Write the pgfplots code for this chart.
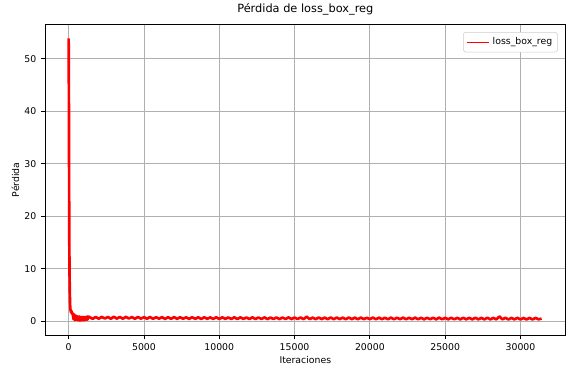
\documentclass[border=0pt]{standalone}
\usepackage{pgfplots}
\pgfplotsset{compat=1.18}
\usepackage{pgfplotstable}
\usepackage{fontspec}
\setmainfont{DejaVu Sans}
\definecolor{gridgray}{HTML}{B0B0B0}
\definecolor{legedge}{HTML}{CCCCCC}
\pgfplotstableread{
it loss
0 53.9
20 40
40 16.4
60 9
80 5
100 3
120 2.2
140 1.9
160 1.7
180 2.0
200 1.5
240 1.6
280 1.2
320 0.4
360 1.3
400 0.2
440 1.1
480 0.3
520 1.0
560 0.2
600 0.9
650 0.2
700 0.9
750 0.1
800 0.8
850 0.2
900 0.8
950 0.15
1000 0.8
1050 0.2
1100 0.8
1150 0.25
1200 0.85
1250 0.3
1300 0.9
1400 0.75
1600 0.45
1800 0.80
2000 0.47
2200 0.82
2400 0.50
2600 0.81
2800 0.46
3000 0.84
3200 0.49
3400 0.80
3600 0.47
3800 0.82
4000 0.50
4200 0.79
4400 0.45
4600 0.80
4800 0.48
5000 0.77
5200 0.46
5400 0.79
5600 0.45
5800 0.75
6000 0.47
6200 0.77
6400 0.43
6600 0.75
6800 0.45
7000 0.78
7200 0.44
7400 0.75
7600 0.46
7800 0.73
8000 0.43
8200 0.76
8400 0.45
8600 0.74
8800 0.42
9000 0.75
9200 0.44
9400 0.72
9600 0.43
9800 0.75
10000 0.41
10200 0.73
10400 0.44
10600 0.71
10800 0.42
11000 0.74
11200 0.41
11400 0.72
11600 0.43
11800 0.70
12000 0.41
12200 0.73
12400 0.40
12600 0.71
12800 0.42
13000 0.72
13200 0.40
13400 0.69
13600 0.42
13800 0.71
14000 0.39
14200 0.70
14400 0.41
14600 0.72
14800 0.40
15000 0.69
15200 0.41
15400 0.70
15600 0.39
15800 0.85
16000 0.40
16200 0.69
16400 0.38
16600 0.70
16800 0.40
17000 0.68
17200 0.39
17400 0.71
17600 0.38
17800 0.69
18000 0.40
18200 0.67
18400 0.38
18600 0.70
18800 0.39
19000 0.67
19200 0.37
19400 0.69
19600 0.39
19800 0.66
20000 0.38
20200 0.68
20400 0.37
20600 0.67
20800 0.39
21000 0.65
21200 0.37
21400 0.68
21600 0.36
21800 0.66
22000 0.38
22200 0.67
22400 0.36
22600 0.65
22800 0.37
23000 0.68
23200 0.36
23400 0.66
23600 0.35
23800 0.66
24000 0.37
24200 0.65
24400 0.35
24600 0.67
24800 0.36
25000 0.64
25200 0.35
25400 0.66
25600 0.36
25800 0.65
26000 0.34
26200 0.65
26400 0.35
26600 0.64
26800 0.34
27000 0.66
27200 0.35
27400 0.63
27600 0.34
27800 0.65
28000 0.35
28200 0.64
28400 0.34
28600 0.90
28800 0.35
29000 0.65
29200 0.33
29400 0.63
29600 0.34
29800 0.64
30000 0.33
30200 0.62
30400 0.34
30600 0.63
30800 0.33
31000 0.62
31200 0.35
31400 0.50
}\losstable
\begin{document}
\begin{tikzpicture}
\path[use as bounding box] (-33.75pt,-25.3pt) rectangle (393.75pt,251.5pt);
\begin{axis}[
  at={(0,0)}, anchor=south west,
  scale only axis,
  width=390.5pt, height=233.3pt,
  xmin=-1570, xmax=33000,
  ymin=-2.7, ymax=56.6,
  xtick={0,5000,10000,15000,20000,25000,30000},
  ytick={0,10,20,30,40,50},
  scaled x ticks=false,
  /pgf/number format/set thousands separator={},
  /pgf/number format/assume math mode=true,
  tick align=outside, tick pos=left,
  major tick length=3pt,
  tick style={black, line width=0.6pt},
  ticklabel style={font=\fontsize{7}{8}\selectfont},
  grid=major,
  grid style={gridgray, line width=0.6pt},
  axis line style={black, line width=0.6pt},
  title={Pérdida de loss\_box\_reg},
  title style={font=\fontsize{8.5}{10}\selectfont, yshift=-3pt},
  xlabel={Iteraciones},
  ylabel={Pérdida},
  label style={font=\fontsize{7}{8}\selectfont},
  xlabel style={yshift=3pt},
  ylabel style={yshift=-3pt},
  legend style={font=\fontsize{7}{8}\selectfont, draw=legedge, rounded corners=2pt, inner sep=2pt, legend cell align=left, at={(0.985,0.975)}, anchor=north east},
  legend image post style={line width=1pt},
]
\addplot[red, line width=2pt, line join=round] table[x=it, y=loss] {\losstable};
\addlegendentry{loss\_box\_reg}
\end{axis}
\end{tikzpicture}
\end{document}
